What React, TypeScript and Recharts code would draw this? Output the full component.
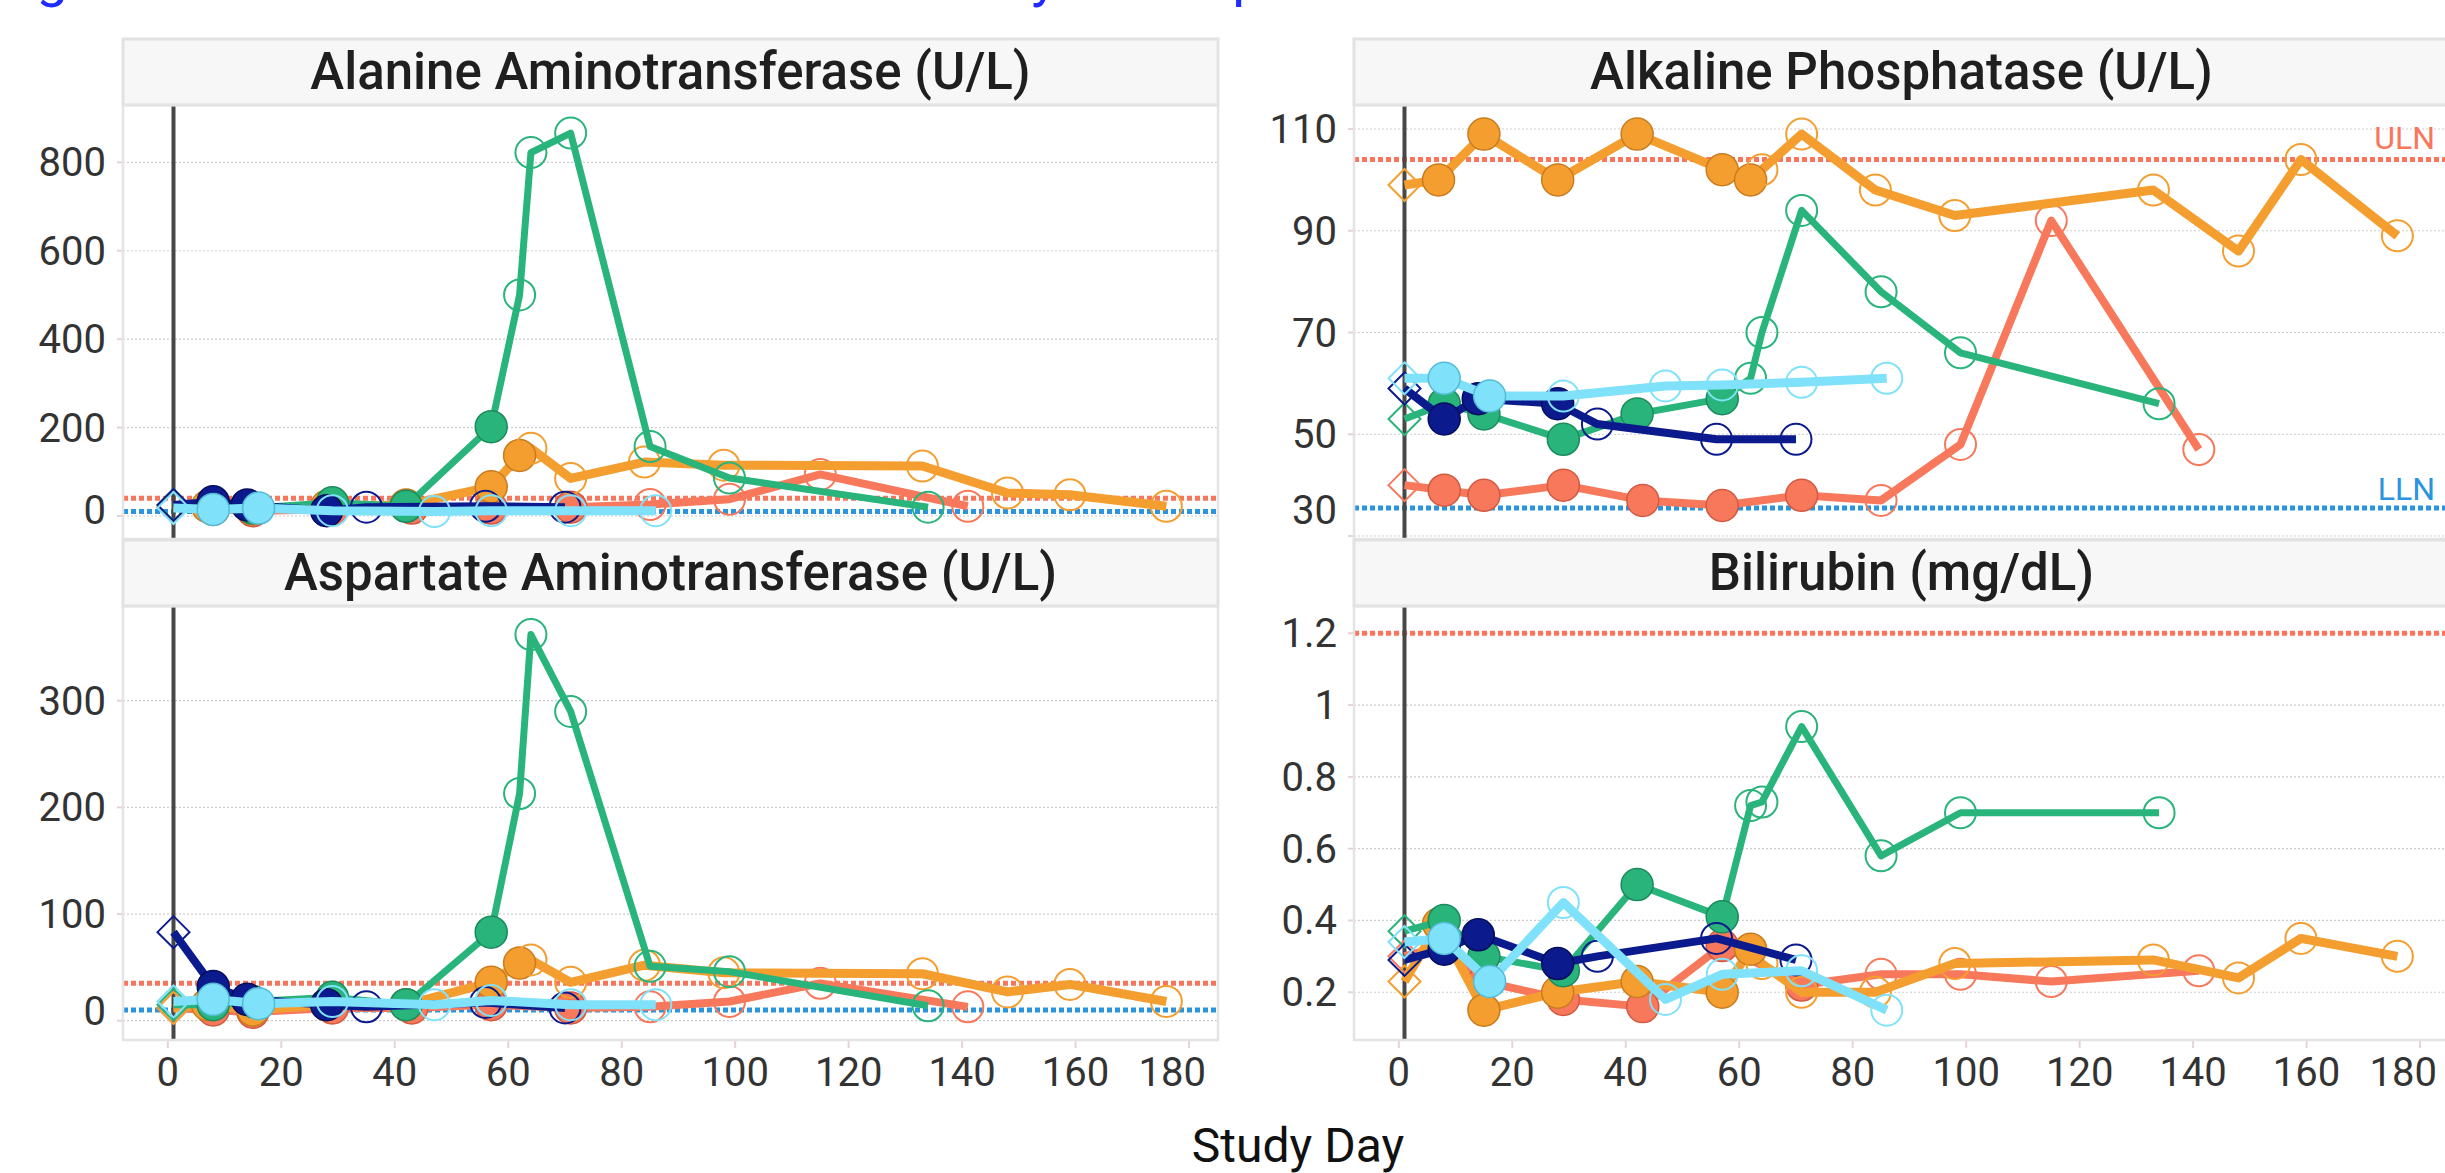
import React from 'react';
import { ScatterChart, Scatter, XAxis, YAxis, CartesianGrid, ReferenceLine } from 'recharts';

// ---------------- data ----------------
const DAY_TICKS = [0, 20, 40, 60, 80, 100, 120, 140, 160, 180];
const ALT_TICKS = [0, 200, 400, 600, 800];
const ALP_TICKS = [30, 50, 70, 90, 110];
const AST_TICKS = [0, 100, 200, 300];
const BILI_TICKS = [0.2, 0.4, 0.6, 0.8, 1, 1.2];

const SUBJECTS = ['Subject 01', 'Subject 02', 'Subject 03', 'Subject 04', 'Subject 05'];

// B = baseline (diamond), T = on treatment (filled), F = follow-up (open)
const salmonDays = [1, 8, 15, 29, 43, 57, 71, 85, 99, 115, 141];
const salmonMarks = ['B', 'T', 'T', 'T', 'T', 'T', 'T', 'F', 'F', 'F', 'F'];
const salmonALT = [20, 15, 12, 15, 18, 18, 20, 26, 38, 94, 22];
const salmonAST = [12, 10, 8, 12, 12, 15, 12, 13, 18, 35, 13];
const salmonALP = [40, 39, 38, 40, 37, 36, 38, 37, 48, 92, 47];
const salmonBILI = [0.3, 0.33, 0.23, 0.18, 0.16, 0.33, 0.22, 0.25, 0.25, 0.23, 0.26];

const orangeDays = [1, 7, 15, 28, 42, 57, 62, 64, 71, 84, 98, 133, 148, 159, 176];
const orangeMarks = ['B', 'T', 'T', 'T', 'T', 'T', 'T', 'F', 'F', 'F', 'F', 'F', 'F', 'F', 'F'];
const orangeALT = [20, 22, 16, 22, 25, 66, 137, 153, 85, 122, 115, 113, 52, 48, 22];
const orangeAST = [12, 15, 10, 15, 15, 36, 54, 57, 36, 52, 45, 44, 27, 34, 18];
const orangeALP = [99, 100, 109, 100, 109, 102, 100, 102, 109, 98, 93, 98, 86, 104, 89];
const orangeBILI = [0.23, 0.39, 0.15, 0.2, 0.23, 0.2, 0.32, 0.28, 0.2, 0.2, 0.28, 0.29, 0.24, 0.35, 0.3];

const greenDays = [1, 8, 15, 29, 42, 57, 62, 64, 71, 85, 99, 134];
const greenMarks = ['B', 'T', 'T', 'T', 'T', 'T', 'F', 'F', 'F', 'F', 'F', 'F'];
const greenALT = [25, 20, 18, 30, 22, 202, 500, 822, 866, 157, 86, 20];
const greenAST = [15, 15, 18, 22, 15, 83, 213, 362, 290, 51, 46, 14];
const greenALP = [53, 56, 54, 49, 54, 57, 61, 70, 94, 78, 66, 56];
const greenBILI = [0.37, 0.4, 0.3, 0.26, 0.5, 0.41, 0.72, 0.73, 0.94, 0.58, 0.7, 0.7];

const navyDays = [1, 8, 14, 28, 35, 56, 70];
const navyMarks = ['B', 'T', 'T', 'T', 'F', 'F', 'F'];
const navyALT = [25, 32, 25, 12, 20, 22, 20];
const navyAST = [83, 32, 20, 15, 13, 17, 12];
const navyALP = [59, 53, 57, 56, 52, 49, 49];
const navyBILI = [0.29, 0.32, 0.36, 0.28, 0.3, 0.35, 0.29];

const skyDays = [1, 8, 16, 29, 47, 57, 71, 86];
const skyMarks = ['B', 'T', 'T', 'F', 'F', 'F', 'F', 'F'];
const skyALT = [18, 15, 18, 12, 10, 12, 12, 12];
const skyAST = [18, 20, 16, 18, 15, 19, 15, 15];
const skyALP = [61, 61, 57.5, 57.5, 59.5, 59.7, 60.2, 61];
const skyBILI = [0.34, 0.35, 0.23, 0.45, 0.18, 0.25, 0.26, 0.15];

const PANEL_TITLES = [
  'Alanine Aminotransferase (U/L)',
  'Alkaline Phosphatase (U/L)',
  'Aspartate Aminotransferase (U/L)',
  'Bilirubin (mg/dL)',
];
const X_TITLE = 'Study Day';
const FIG_TITLE = 'Figure 1. Liver Function Tests Over Time by Participant';

// ---------------- layout ----------------
const FONT = 'Roboto, "Noto Sans", sans-serif';
const PLOT_W = 1095;
const PLOT_H = 434;
const AXIS_W = 123;
const CHART_W = AXIS_W + PLOT_W + 2;
const X_DOMAIN = [-7.9, 185.1];
const ULN_COLOR = '#F8765C';
const LLN_COLOR = '#2A95DE';

type Pt = { day: number; v: number; m: string };

const build = (days: number[], marks: string[], vals: number[]): Pt[] =>
  days.map((d, i) => ({ day: d, v: vals[i], m: marks[i] }));

const SERIES = [
  { name: SUBJECTS[0], color: '#F8785C', edge: '#D25A40', width: 8, days: salmonDays, marks: salmonMarks, ALT: salmonALT, AST: salmonAST, ALP: salmonALP, BILI: salmonBILI },
  { name: SUBJECTS[1], color: '#F59E30', edge: '#C97C1E', width: 9, days: orangeDays, marks: orangeMarks, ALT: orangeALT, AST: orangeAST, ALP: orangeALP, BILI: orangeBILI },
  { name: SUBJECTS[2], color: '#28B47B', edge: '#1C8B5C', width: 7, days: greenDays, marks: greenMarks, ALT: greenALT, AST: greenAST, ALP: greenALP, BILI: greenBILI },
  { name: SUBJECTS[3], color: '#0B1A8C', edge: '#050E5C', width: 8, days: navyDays, marks: navyMarks, ALT: navyALT, AST: navyAST, ALP: navyALP, BILI: navyBILI },
  { name: SUBJECTS[4], color: '#80E2FA', edge: '#52BCD6', width: 9, days: skyDays, marks: skyMarks, ALT: skyALT, AST: skyAST, ALP: skyALP, BILI: skyBILI },
];

type PanelCfg = {
  key: 'ALT' | 'ALP' | 'AST' | 'BILI';
  title: string;
  left: number;
  top: number;
  stripTop: number;
  domain: number[];
  ticks: number[];
  uln: number;
  lln: number | null;
  bottom: boolean;
  labels: boolean;
};

const PANELS: PanelCfg[] = [
  { key: 'ALT', title: PANEL_TITLES[0], left: 123, top: 105, stripTop: 39, domain: [-52, 929.6], ticks: ALT_TICKS, uln: 40, lln: 10, bottom: false, labels: false },
  { key: 'ALP', title: PANEL_TITLES[1], left: 1354, top: 105, stripTop: 39, domain: [29.41, 114.72], ticks: ALP_TICKS, uln: 104, lln: 35.5, bottom: false, labels: true },
  { key: 'AST', title: PANEL_TITLES[2], left: 123, top: 606, stripTop: 540, domain: [-18.1, 388.8], ticks: AST_TICKS, uln: 35, lln: 10, bottom: true, labels: false },
  { key: 'BILI', title: PANEL_TITLES[3], left: 1354, top: 606, stripTop: 540, domain: [0.067, 1.276], ticks: BILI_TICKS, uln: 1.2, lln: null, bottom: true, labels: false },
];

// ---------------- render helpers ----------------
function makeShape(color: string, edge: string) {
  return (props: any) => {
    const { cx, cy, payload } = props;
    if (typeof cx !== 'number' || typeof cy !== 'number') return <g />;
    if (payload && payload.m === 'B') {
      const r = 16;
      return (
        <polygon
          points={`${cx},${cy - r} ${cx + r},${cy} ${cx},${cy + r} ${cx - r},${cy}`}
          fill="none"
          stroke={color}
          strokeWidth={2}
        />
      );
    }
    if (payload && payload.m === 'T') {
      return <circle cx={cx} cy={cy} r={16} fill={color} stroke={edge} strokeWidth={1.5} />;
    }
    return <circle cx={cx} cy={cy} r={15.5} fill="none" stroke={color} strokeWidth={2} />;
  };
}

const YTick = (props: any) => {
  const { y, payload } = props;
  const labelY = Math.min(y, PLOT_H - 29);
  return (
    <g>
      <line x1={AXIS_W - 6} x2={AXIS_W} y1={y} y2={y} stroke="#e6d3d3" strokeWidth={2} />
      <text x={AXIS_W - 17} y={labelY + 14} textAnchor="end" fontSize={40} fill="#333" fontFamily={FONT}>
        {String(payload.value)}
      </text>
    </g>
  );
};

const XTick = (props: any) => {
  const { x, payload } = props;
  const label = String(payload.value);
  const half = (label.length * 0.5617 * 40) / 2;
  const maxRight = AXIS_W + PLOT_W - 12;
  const cx = Math.min(x, maxRight - half);
  return (
    <g>
      <line x1={x} x2={x} y1={PLOT_H + 1} y2={PLOT_H + 8} stroke="#e6d3d3" strokeWidth={2} />
      <text x={cx} y={PLOT_H + 46} textAnchor="middle" fontSize={40} fill="#333" fontFamily={FONT}>
        {label}
      </text>
    </g>
  );
};

const RefLabel = (props: any) => {
  const { viewBox, text, color, dy } = props;
  if (!viewBox) return null;
  return (
    <text x={AXIS_W + PLOT_W - 14} y={viewBox.y + dy} textAnchor="end" fontSize={32} fill={color} fontFamily={FONT}>
      {text}
    </text>
  );
};

function Panel({ cfg }: { cfg: PanelCfg }) {
  const chartH = cfg.bottom ? PLOT_H + 80 : PLOT_H;
  return (
    <div style={{ position: 'absolute', left: cfg.left - AXIS_W, top: cfg.top, width: CHART_W, height: chartH }}>
      <ScatterChart width={CHART_W} height={chartH} margin={{ top: 0, right: 2, bottom: 0, left: 0 }}>
        <CartesianGrid horizontal vertical={false} stroke="#cdcdcd" strokeWidth={1.2} strokeDasharray="2 2" />
        <XAxis
          type="number"
          dataKey="day"
          domain={X_DOMAIN}
          ticks={DAY_TICKS}
          hide={!cfg.bottom}
          height={80}
          axisLine={false}
          tickLine={false}
          tick={<XTick />}
          allowDataOverflow
          interval={0}
        />
        <YAxis
          type="number"
          dataKey="v"
          domain={cfg.domain}
          ticks={cfg.ticks}
          width={AXIS_W}
          axisLine={false}
          tickLine={false}
          tick={<YTick />}
          allowDataOverflow
          interval={0}
        />
        <ReferenceLine
          y={cfg.uln}
          stroke={ULN_COLOR}
          strokeWidth={5}
          strokeDasharray="5 3"
          label={cfg.labels ? <RefLabel text="ULN" color={ULN_COLOR} dy={-11} /> : undefined}
        />
        {cfg.lln !== null && (
          <ReferenceLine
            y={cfg.lln}
            stroke={LLN_COLOR}
            strokeWidth={5}
            strokeDasharray="5 3"
            label={cfg.labels ? <RefLabel text="LLN" color={LLN_COLOR} dy={-8} /> : undefined}
          />
        )}
        <ReferenceLine x={1} stroke="#474747" strokeWidth={4} />
        {SERIES.map((s) => (
          <Scatter
            key={s.name}
            name={s.name}
            data={build(s.days, s.marks, s[cfg.key])}
            line={{ stroke: s.color, strokeWidth: s.width, fill: 'none', strokeLinejoin: 'round' }}
            lineType="joint"
            lineJointType="linear"
            shape={makeShape(s.color, s.edge)}
            isAnimationActive={false}
          />
        ))}
      </ScatterChart>
    </div>
  );
}

export default function App() {
  return (
    <div
      style={{
        position: 'fixed',
        left: 0,
        top: 0,
        width: 2445,
        height: 1173,
        overflow: 'hidden',
        background: '#fff',
        fontFamily: FONT,
      }}
    >
      {PANELS.map((p) => (
        <Panel key={p.key} cfg={p} />
      ))}
      <svg
        width={2445}
        height={1173}
        style={{ position: 'absolute', left: 0, top: 0, pointerEvents: 'none' }}
      >
        <text x={-8} y={-4} fontSize={56} fill="#1f2bff" fontFamily={FONT}>
          {FIG_TITLE}
        </text>
        {PANELS.map((p) => (
          <g key={p.key}>
            <rect x={p.left} y={p.stripTop} width={PLOT_W} height={p.top - p.stripTop} fill="#f7f7f7" stroke="#e2e2e2" strokeWidth={3} />
            <text
              x={p.left + PLOT_W / 2}
              y={p.stripTop + 50}
              textAnchor="middle"
              fontSize={51}
              fontWeight={500}
              fill="#1f1f1f"
              fontFamily={FONT}
            >
              {p.title}
            </text>
            <rect x={p.left} y={p.top} width={PLOT_W} height={PLOT_H} fill="none" stroke="#e4e4e4" strokeWidth={2.5} />
          </g>
        ))}
        <text x={1298} y={1162} textAnchor="middle" fontSize={48} fill="#111" fontFamily={FONT}>
          {X_TITLE}
        </text>
      </svg>
    </div>
  );
}
